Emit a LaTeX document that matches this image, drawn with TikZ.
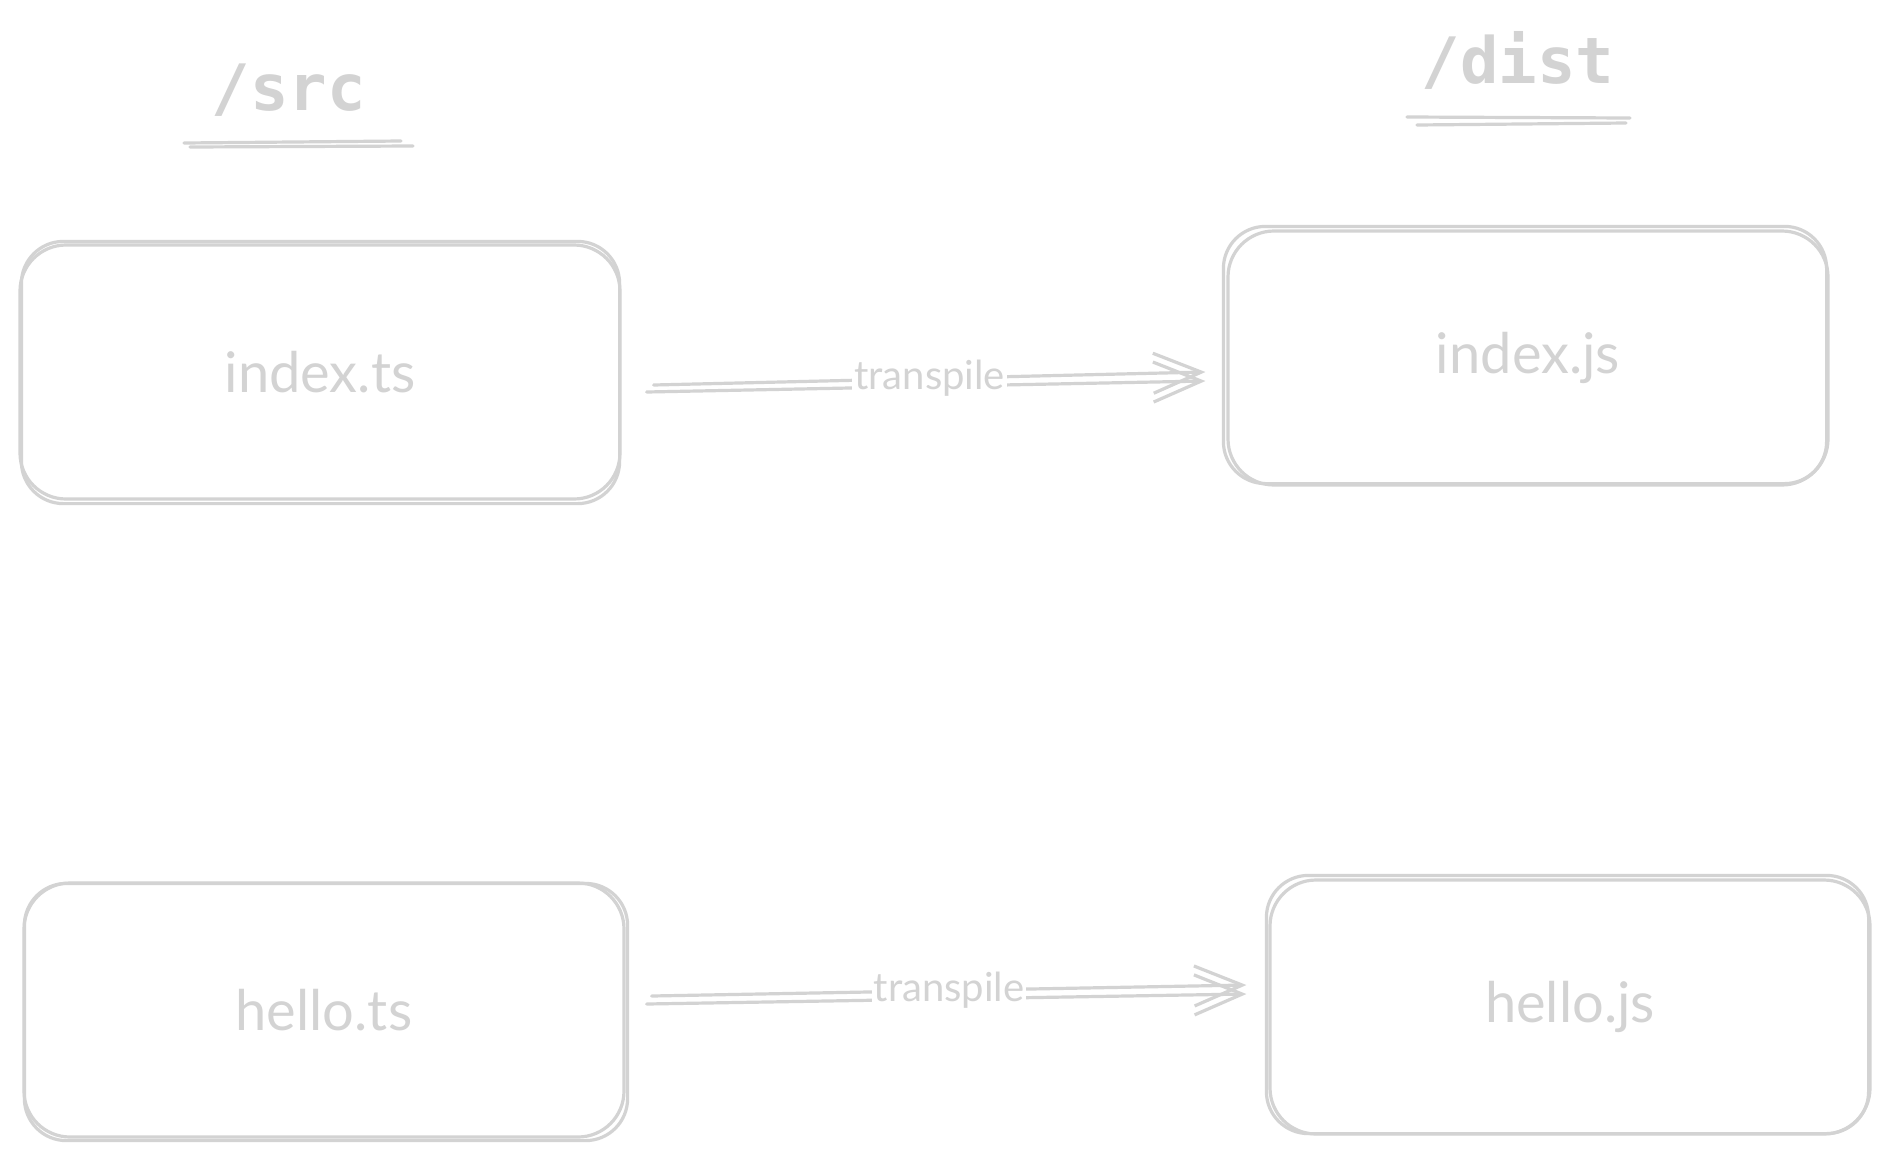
\documentclass[tikz,border=0pt]{standalone}
\usepackage{fontspec}
\setmainfont{Lato}
\setmonofont{DejaVu Sans Mono}
\usetikzlibrary{arrows.meta}
\definecolor{sketch}{HTML}{D3D3D3}
\tikzset{
  stroke/.style={draw=sketch, line width=3.2pt, line cap=round, line join=round},
  file/.style={stroke, rounded corners=46pt, minimum width=600pt, minimum height=254pt, inner sep=0pt, text=sketch, font=\fontsize{56}{60}\selectfont},
  folder/.style={text=sketch, font=\ttfamily\bfseries\fontsize{64}{70}\selectfont},
  flow/.style={stroke, -{Straight Barb[length=48pt,width=40pt]}},
  verb/.style={fill=white, text=sketch, inner sep=2pt, font=\fontsize{40}{42}\selectfont}
}
\begin{document}
\begin{tikzpicture}[x=1pt,y=-1pt]
\useasboundingbox[fill=white] (0,0) rectangle (1889,1157);
% folders
\node[folder] (src) at (289,90) {/src};
\node[folder] (dist) at (1518,60) {/dist};
\draw[stroke] (184,143) -- (401,141);
\draw[stroke] (190,147) -- (413,146);
\draw[stroke] (1407,117) -- (1630,118);
\draw[stroke] (1417,125) -- (1626,123);
% files
\node[file] (its) at (320,372) {index.ts};
\node[file] (ijs) at (1528,358) {index.js};
\node[file] (hts) at (324,1010) {hello.ts};
\node[file] (hjs) at (1570,1007) {hello.js};
\foreach \n/\a/\b in {its/3/2, ijs/-3/3, hts/2/-2, hjs/-2/3}
  \draw[stroke, rounded corners=42pt] ([shift={(\a pt,\b pt)}]\n.north west) rectangle ([shift={(-\b pt,-\a pt)}]\n.south east);
% transpile
\draw[flow] ([shift={(25pt,-20pt)}]its.east) -- ([shift={(-21pt,-23pt)}]ijs.west);
\draw[flow] ([shift={(32pt,-13pt)}]its.east) -- node[verb] {transpile} ([shift={(-21pt,-14pt)}]ijs.west);
\draw[flow] ([shift={(21pt,6pt)}]hts.east) -- ([shift={(-22pt,13pt)}]hjs.west);
\draw[flow] ([shift={(26pt,14pt)}]hts.east) -- node[verb] {transpile} ([shift={(-22pt,22pt)}]hjs.west);
\end{tikzpicture}
\end{document}
